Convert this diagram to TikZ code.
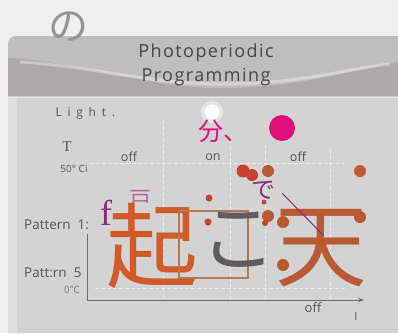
\documentclass[tikz,border=0pt]{standalone}
\usepackage{fontspec}
\setmainfont{Liberation Serif}
\newfontfamily\osans{Open Sans}
\newfontfamily\spaced[LetterSpace=8]{Open Sans}
\newfontfamily\wspaced[LetterSpace=48]{Open Sans}
\newfontfamily\cjk{Noto Sans CJK JP}
\usetikzlibrary{arrows.meta}
\definecolor{bgc}{HTML}{EFEFEF}
\definecolor{panelc}{HTML}{D3D3D3}
\definecolor{headc}{HTML}{BEBEBE}
\definecolor{headdark}{HTML}{ADA8A9}
\definecolor{txt}{HTML}{555555}
\definecolor{magc}{HTML}{E0107A}
\definecolor{orc}{HTML}{D05A28}
\definecolor{rustc}{HTML}{B95A32}
\definecolor{redc}{HTML}{C8402E}
\definecolor{boxc}{HTML}{B8794A}
\definecolor{purc}{HTML}{8C2C7C}
\definecolor{grayc}{HTML}{605B5B}
\tikzset{
  lbl/.style={font=\osans\fontsize{12.5}{12.5}\selectfont, text=txt, inner sep=0pt},
  dot/.style={circle, fill=rustc, minimum size=12pt, inner sep=0pt},
  rdot/.style={circle, fill=redc, minimum size=7pt, inner sep=0pt},
  grid/.style={white, opacity=0.55, line width=0.8pt, dash pattern=on 4pt off 2pt},
}
\begin{document}
\begin{tikzpicture}[x=1pt,y=-1pt]
\useasboundingbox (0,0) rectangle (398,333);
\fill[bgc] (0,0) rectangle (398,333);
% panel
\fill[panelc] (398,36) -- (16,36) to[out=180,in=90] (8,44) -- (8,333) -- (398,333) -- cycle;
\fill[white, opacity=0.25] (8,97) rectangle (17,333);
% header band
\fill[headc] (398,36) -- (16,36) to[out=180,in=90] (8,44) -- (8,96) -- (398,96) -- cycle;
\fill[headdark] (8,58) .. controls (80,62) and (150,88) .. (220,88) .. controls (300,88) and (350,70) .. (398,62) -- (398,96) -- (8,96) -- cycle;
\draw[white, opacity=0.35, line width=3pt] (20,62) .. controls (90,66) and (150,84) .. (220,84) .. controls (300,84) and (340,70) .. (390,64);
\draw[white, opacity=0.5] (8,97) -- (398,97);
% title
\node[font=\spaced\fontsize{18}{18}\selectfont, text=txt!85!black] (t1) at (206,53) {Photoperiodic};
\node[font=\spaced\fontsize{18}{18}\selectfont, text=txt!85!black] (t2) at (206,77) {Programming};
\node[font=\cjk\fontsize{40}{40}\selectfont, text=grayc!65] (no) at (68,27) {の};
% faint grid
\draw[grid] (90,163) -- (345,163);
\draw[grid] (95,288) -- (345,288);
\draw[grid] (163,120) -- (163,300);
\draw[grid] (230,140) -- (230,300);
\draw[grid] (265,145) -- (265,300);
\draw[grid] (330,150) -- (330,300);
% labels
\node[font=\wspaced\fontsize{12}{12}\selectfont, text=txt, anchor=west] (light) at (52,113) {Light.};
\node[font=\fontsize{15}{15}\selectfont, text=txt] (T) at (67,147) {T};
\node[font=\osans\fontsize{10}{10}\selectfont, text=txt] (temp) at (74,169) {50° Ci};
\node[lbl] (off1) at (129,157) {off};
\node[lbl] (on) at (213,157) {on};
\node[lbl] (off2) at (298,157) {off};
\node[lbl, font=\osans\fontsize{13.5}{13.5}\selectfont, anchor=west] (p1) at (24,225) {Pattern\ \ 1:};
\node[lbl, font=\osans\fontsize{13.5}{13.5}\selectfont, anchor=west] (p5) at (24,273) {Patt:rn\ \ 5};
\node[font=\cjk\fontsize{10}{10}\selectfont, text=gray] (zero) at (72,290) {0℃};
\node[lbl, font=\osans\fontsize{13}{13}\selectfont] (off3) at (313,308) {off};
\node[lbl, font=\osans\fontsize{11}{11}\selectfont] (I) at (356,317) {I};
% axes
\coordinate (ax0) at (87,300);
\coordinate (axtop) at (87,234);
\coordinate (axend) at (364,300);
\draw[gray!85!black, line width=0.9pt] (axtop) -- (ax0);
\draw[gray!85!black, line width=0.9pt, -{Stealth[length=6pt]}] (ax0) -- (axend);
% glow + magenta
\fill[white, opacity=0.45] (212,112) circle (11);
\fill[white, opacity=0.9] (212,112) circle (7.5);
\node[font=\cjk\fontsize{25}{25}\selectfont, text=magc, anchor=west] (fun) at (195,131) {分、};
\node[circle, fill=magc, minimum size=26pt, inner sep=0pt] (md) at (282,128) {};
% purple
\node[font=\fontsize{36}{36}\selectfont, text=purc] (f) at (106,213) {f};
\node[font=\cjk\fontsize{22}{22}\selectfont, text=purc!60!pink] (to) at (140,200) {戸};
% big characters
\node[font=\cjk\fontsize{92}{92}\selectfont, text=orc] (ki) at (152,246) {起};
\node[draw=boxc, line width=1.4pt, minimum width=69pt, minimum height=67pt, inner sep=0pt] (box) at (213.5,244.5) {};
\node[font=\cjk\fontsize{76}{76}\selectfont, text=grayc] (ko) at (238,240) {こ};
\node[font=\cjk\fontsize{92}{92}\selectfont, text=rustc] (ten) at (321,248) {天};
\node[font=\cjk\fontsize{24}{24}\selectfont, text=purc] (de) at (263,190) {で};
\coordinate (la) at (282,193);
\coordinate (lb) at (323,235);
\draw[purc, line width=1pt] (la) -- (lb);
% dots
\node[rdot, minimum size=13pt] (d1) at (243,171) {};
\node[rdot, minimum size=12pt] (d2) at (252,175) {};
\node[dot] (d3) at (268,171) {};
\node[dot] (d4) at (360,171) {};
\node[dot] (d5) at (268,216) {};
\node[dot] (d6) at (283,222) {};
\node[dot] (d7) at (283,265) {};
\node[dot] (d8) at (360,217) {};
\node[rdot] (d9) at (209,198) {};
\node[rdot] (d10) at (208,222) {};
\node[rdot, minimum size=5pt] (d11) at (264,202) {};
\node[rdot, minimum size=6pt] (d12) at (265,223) {};
\end{tikzpicture}
\end{document}
